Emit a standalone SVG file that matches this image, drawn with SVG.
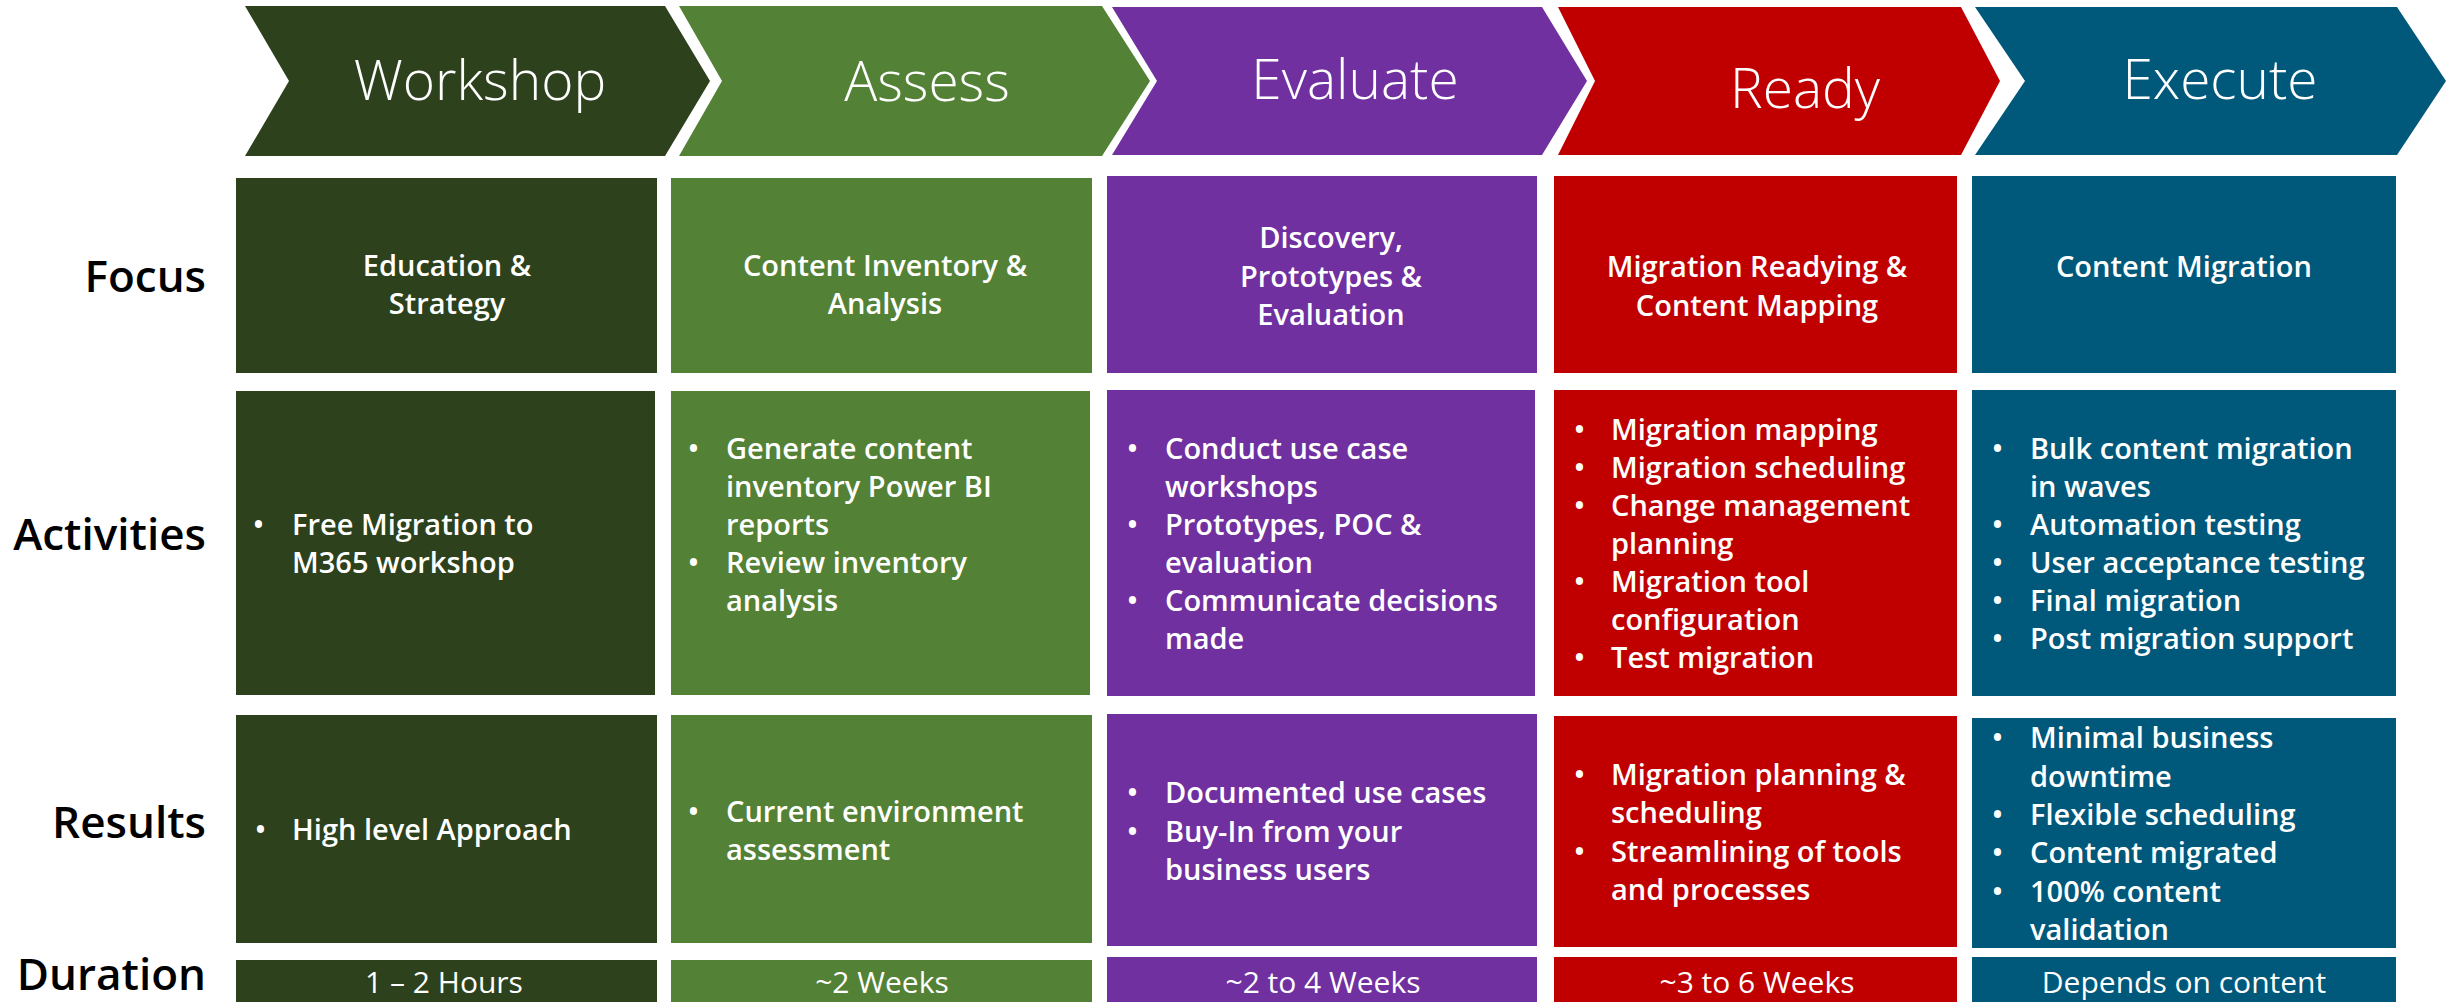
<svg xmlns="http://www.w3.org/2000/svg" width="2446" height="1002" viewBox="0 0 2446 1002">
<style>
.hd{font-family:"Open Sans","Noto Sans","Liberation Sans",sans-serif;font-weight:300;font-size:55px;fill:#fff;text-anchor:middle}
.rl{font-family:"Open Sans","Noto Sans","Liberation Sans",sans-serif;font-weight:600;font-size:44px;fill:#000;text-anchor:end}
.fc{font-family:"Open Sans","Noto Sans","Liberation Sans",sans-serif;font-weight:600;font-size:29px;fill:#fff;text-anchor:middle}
.tx{font-family:"Open Sans","Noto Sans","Liberation Sans",sans-serif;font-weight:600;font-size:29px;fill:#fff}
.du{font-family:"Open Sans","Noto Sans","Liberation Sans",sans-serif;font-weight:400;font-size:30px;fill:#fff;text-anchor:middle}
.c1{fill:#2C411C}.c2{fill:#538135}.c3{fill:#7030A0}.c4{fill:#C00000}.c5{fill:#00587A}
</style>
<rect width="2446" height="1002" fill="#fff"/>
<g id="headers">
<g id="h-workshop"><polygon class="c1" points="245,6 665,6 710,81 665,156 245,156 289,81"/><text class="hd" x="480" y="100">Workshop</text></g>
<g id="h-assess"><polygon class="c2" points="679,6 1102,6 1150,81 1102,156 679,156 722,81"/><text class="hd" x="927" y="101">Assess</text></g>
<g id="h-evaluate"><polygon class="c3" points="1112,7 1542,7 1587,81 1542,155 1112,155 1157,81"/><text class="hd" x="1355" y="99">Evaluate</text></g>
<g id="h-ready"><polygon class="c4" points="1558,7 1961,7 2000,81 1961,155 1558,155 1595,81"/><text class="hd" x="1805" y="108">Ready</text></g>
<g id="h-execute"><polygon class="c5" points="1975,7 2397,7 2446,81 2397,155 1975,155 2025,81"/><text class="hd" x="2220" y="99">Execute</text></g>
</g>
<g id="row-labels">
<text class="rl" x="206" y="292">Focus</text>
<text class="rl" x="206" y="550">Activities</text>
<text class="rl" x="206" y="838">Results</text>
<text class="rl" x="206" y="990">Duration</text>
</g>
<g id="focus">
<g id="f-workshop"><rect class="c1" x="236" y="178" width="421" height="195"/><text class="fc"><tspan x="447" y="276">Education &amp;</tspan><tspan x="447" y="314">Strategy</tspan></text></g>
<g id="f-assess"><rect class="c2" x="671" y="178" width="421" height="195"/><text class="fc"><tspan x="885" y="276">Content Inventory &amp;</tspan><tspan x="885" y="314">Analysis</tspan></text></g>
<g id="f-evaluate"><rect class="c3" x="1107" y="176" width="430" height="197"/><text class="fc"><tspan x="1331" y="248">Discovery,</tspan><tspan x="1331" y="287">Prototypes &amp;</tspan><tspan x="1331" y="325">Evaluation</tspan></text></g>
<g id="f-ready"><rect class="c4" x="1554" y="176" width="403" height="197"/><text class="fc"><tspan x="1757" y="277">Migration Readying &amp;</tspan><tspan x="1757" y="316">Content Mapping</tspan></text></g>
<g id="f-execute"><rect class="c5" x="1972" y="176" width="424" height="197"/><text class="fc"><tspan x="2184" y="277">Content Migration</tspan></text></g>
</g>
<g id="activities">
<g id="a-workshop"><rect class="c1" x="236" y="391" width="419" height="304"/>
<text class="tx"><tspan x="253" y="535">•</tspan></text>
<text class="tx"><tspan x="292" y="535">Free Migration to</tspan><tspan x="292" y="573">M365 workshop</tspan></text></g>
<g id="a-assess"><rect class="c2" x="671" y="391" width="419" height="304"/>
<text class="tx"><tspan x="688" y="459">•</tspan><tspan x="688" y="573">•</tspan></text>
<text class="tx"><tspan x="726" y="459">Generate content</tspan><tspan x="726" y="497">inventory Power BI</tspan><tspan x="726" y="535">reports</tspan><tspan x="726" y="573">Review inventory</tspan><tspan x="726" y="611">analysis</tspan></text></g>
<g id="a-evaluate"><rect class="c3" x="1107" y="390" width="428" height="306"/>
<text class="tx"><tspan x="1127" y="459">•</tspan><tspan x="1127" y="535">•</tspan><tspan x="1127" y="611">•</tspan></text>
<text class="tx"><tspan x="1165" y="459">Conduct use case</tspan><tspan x="1165" y="497">workshops</tspan><tspan x="1165" y="535">Prototypes, POC &amp;</tspan><tspan x="1165" y="573">evaluation</tspan><tspan x="1165" y="611">Communicate decisions</tspan><tspan x="1165" y="649">made</tspan></text></g>
<g id="a-ready"><rect class="c4" x="1554" y="390" width="403" height="306"/>
<text class="tx"><tspan x="1574" y="440">•</tspan><tspan x="1574" y="478">•</tspan><tspan x="1574" y="516">•</tspan><tspan x="1574" y="592">•</tspan><tspan x="1574" y="668">•</tspan></text>
<text class="tx"><tspan x="1611" y="440">Migration mapping</tspan><tspan x="1611" y="478">Migration scheduling</tspan><tspan x="1611" y="516">Change management</tspan><tspan x="1611" y="554">planning</tspan><tspan x="1611" y="592">Migration tool</tspan><tspan x="1611" y="630">configuration</tspan><tspan x="1611" y="668">Test migration</tspan></text></g>
<g id="a-execute"><rect class="c5" x="1972" y="390" width="424" height="306"/>
<text class="tx"><tspan x="1992" y="459">•</tspan><tspan x="1992" y="535">•</tspan><tspan x="1992" y="573">•</tspan><tspan x="1992" y="611">•</tspan><tspan x="1992" y="649">•</tspan></text>
<text class="tx"><tspan x="2030" y="459">Bulk content migration</tspan><tspan x="2030" y="497">in waves</tspan><tspan x="2030" y="535">Automation testing</tspan><tspan x="2030" y="573">User acceptance testing</tspan><tspan x="2030" y="611">Final migration</tspan><tspan x="2030" y="649">Post migration support</tspan></text></g>
</g>
<g id="results">
<g id="r-workshop"><rect class="c1" x="236" y="715" width="421" height="228"/>
<text class="tx"><tspan x="255" y="840">•</tspan></text>
<text class="tx"><tspan x="292" y="840">High level Approach</tspan></text></g>
<g id="r-assess"><rect class="c2" x="671" y="715" width="421" height="228"/>
<text class="tx"><tspan x="688" y="822">•</tspan></text>
<text class="tx"><tspan x="726" y="822">Current environment</tspan><tspan x="726" y="860">assessment</tspan></text></g>
<g id="r-evaluate"><rect class="c3" x="1107" y="714" width="430" height="232"/>
<text class="tx"><tspan x="1127" y="803">•</tspan><tspan x="1127" y="842">•</tspan></text>
<text class="tx"><tspan x="1165" y="803">Documented use cases</tspan><tspan x="1165" y="842">Buy-In from your</tspan><tspan x="1165" y="880">business users</tspan></text></g>
<g id="r-ready"><rect class="c4" x="1554" y="716" width="403" height="231"/>
<text class="tx"><tspan x="1574" y="785">•</tspan><tspan x="1574" y="862">•</tspan></text>
<text class="tx"><tspan x="1611" y="785">Migration planning &amp;</tspan><tspan x="1611" y="823">scheduling</tspan><tspan x="1611" y="862">Streamlining of tools</tspan><tspan x="1611" y="900">and processes</tspan></text></g>
<g id="r-execute"><rect class="c5" x="1972" y="718" width="424" height="230"/>
<text class="tx"><tspan x="1992" y="748">•</tspan><tspan x="1992" y="825">•</tspan><tspan x="1992" y="863">•</tspan><tspan x="1992" y="902">•</tspan></text>
<text class="tx"><tspan x="2030" y="748">Minimal business</tspan><tspan x="2030" y="787">downtime</tspan><tspan x="2030" y="825">Flexible scheduling</tspan><tspan x="2030" y="863">Content migrated</tspan><tspan x="2030" y="902">100% content</tspan><tspan x="2030" y="940">validation</tspan></text></g>
</g>
<g id="duration">
<g id="d-workshop"><rect class="c1" x="236" y="960" width="421" height="50"/><text class="du" x="444" y="993">1 – 2 Hours</text></g>
<g id="d-assess"><rect class="c2" x="671" y="960" width="421" height="50"/><text class="du" x="882" y="993">~2 Weeks</text></g>
<g id="d-evaluate"><rect class="c3" x="1107" y="957" width="430" height="50"/><text class="du" x="1323" y="993">~2 to 4 Weeks</text></g>
<g id="d-ready"><rect class="c4" x="1554" y="957" width="403" height="50"/><text class="du" x="1757" y="993">~3 to 6 Weeks</text></g>
<g id="d-execute"><rect class="c5" x="1972" y="957" width="424" height="50"/><text class="du" x="2184" y="993">Depends on content</text></g>
</g>
<g id="connectors"/>
</svg>
